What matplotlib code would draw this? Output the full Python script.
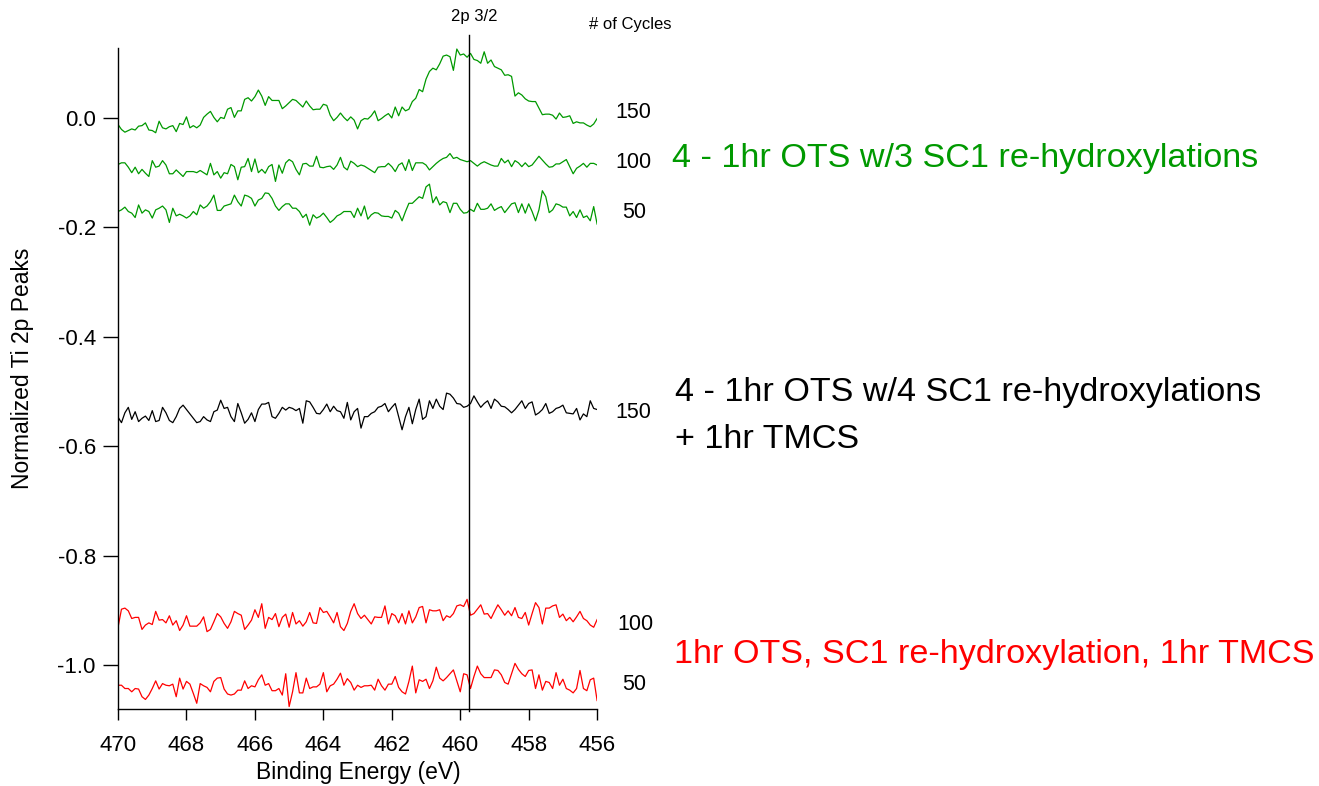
import matplotlib
matplotlib.use("Agg")
import matplotlib.pyplot as plt
import numpy as np

plt.rcParams['font.family'] = ['Liberation Sans', 'DejaVu Sans']
plt.rcParams['axes.unicode_minus'] = False

# binding energy grid, 0.1 eV steps from 470 down to 456
energy = np.linspace(470, 456, 141)

green_150 = [
    -0.012, -0.021, -0.026, -0.023, -0.020, -0.022, -0.015, -0.014, -0.009, -0.022,
    -0.023, -0.027, -0.006, -0.018, -0.020, -0.016, -0.014, -0.025, -0.010, -0.012,
    0.002, -0.018, -0.014, -0.018, -0.013, 0.001, 0.007, 0.012, 0.001, -0.007,
    0.001, -0.001, 0.016, 0.019, 0.001, 0.013, 0.013, 0.034, 0.037, 0.031,
    0.039, 0.051, 0.040, 0.023, 0.039, 0.032, 0.032, 0.032, 0.017, 0.022,
    0.028, 0.034, 0.032, 0.026, 0.020, 0.031, 0.022, 0.015, 0.016, 0.016,
    0.025, 0.023, 0.005, -0.005, 0.001, 0.009, 0.001, -0.005, 0.002, -0.004,
    -0.020,
    -0.005, -0.001, -0.002, 0.004, 0.013, -0.005, -0.001, 0.004, 0.008, 0.000,
    0.020, 0.004, 0.020, 0.013, 0.016, 0.030, 0.036, 0.052, 0.048, 0.071,
    0.085, 0.091, 0.088, 0.099, 0.113, 0.115, 0.112, 0.087, 0.126, 0.115,
    0.117, 0.111, 0.118, 0.107, 0.105, 0.100, 0.121, 0.100, 0.106, 0.094,
    0.091, 0.088, 0.078, 0.079, 0.076, 0.040, 0.046, 0.042, 0.035, 0.031,
    0.030, 0.030, 0.018, 0.006, 0.007, 0.007, 0.005, -0.002, 0.009, 0.001,
    0.002, 0.004, -0.010, -0.007, -0.009, -0.009, -0.013, -0.016, -0.011, -0.001,
]

green_100 = [
    -0.085, -0.082, -0.082, -0.090, -0.100, -0.090, -0.102, -0.094, -0.101, -0.107,
    -0.078, -0.090, -0.088, -0.078, -0.086, -0.102, -0.102, -0.095, -0.101, -0.107,
    -0.098, -0.098, -0.098, -0.100, -0.096, -0.100, -0.104, -0.083, -0.104, -0.098,
    -0.110, -0.100, -0.102, -0.085, -0.089, -0.113, -0.090, -0.089, -0.074, -0.098,
    -0.075, -0.100, -0.094, -0.101, -0.089, -0.085, -0.116, -0.086, -0.101, -0.082,
    -0.076, -0.080, -0.094, -0.104, -0.084, -0.083, -0.088, -0.088, -0.070, -0.090,
    -0.091, -0.089, -0.088, -0.094, -0.086, -0.072, -0.090, -0.095, -0.079, -0.083,
    -0.089,
    -0.086, -0.088, -0.092, -0.096, -0.100, -0.090, -0.089, -0.089, -0.083, -0.089,
    -0.098, -0.086, -0.082, -0.096, -0.076, -0.096, -0.082, -0.082, -0.082, -0.086,
    -0.095, -0.089, -0.083, -0.078, -0.074, -0.072, -0.065, -0.074, -0.072, -0.076,
    -0.078, -0.080, -0.078, -0.083, -0.088, -0.083, -0.080, -0.083, -0.086, -0.088,
    -0.088, -0.074, -0.082, -0.077, -0.089, -0.078, -0.082, -0.089, -0.082, -0.089,
    -0.086, -0.078, -0.070, -0.077, -0.084, -0.090, -0.089, -0.084, -0.084, -0.080,
    -0.076, -0.089, -0.102, -0.092, -0.088, -0.083, -0.090, -0.083, -0.083, -0.086,
]

green_50 = [
    -0.171, -0.168, -0.163, -0.171, -0.174, -0.182, -0.159, -0.174, -0.168, -0.171,
    -0.183, -0.168, -0.165, -0.161, -0.168, -0.191, -0.165, -0.179, -0.176, -0.179,
    -0.183, -0.179, -0.171, -0.177, -0.159, -0.165, -0.161, -0.153, -0.141, -0.169,
    -0.169, -0.161, -0.159, -0.157, -0.141, -0.153, -0.161, -0.141, -0.143, -0.147,
    -0.161, -0.150, -0.147, -0.137, -0.138, -0.147, -0.161, -0.169, -0.162, -0.157,
    -0.157, -0.165, -0.165, -0.171, -0.182, -0.176, -0.196, -0.177, -0.183, -0.180,
    -0.174, -0.182, -0.191, -0.186, -0.179, -0.176, -0.171, -0.171, -0.171, -0.182,
    -0.165,
    -0.179, -0.161, -0.185, -0.177, -0.173, -0.174, -0.179, -0.180, -0.180, -0.183,
    -0.169, -0.174, -0.188, -0.171, -0.156, -0.156, -0.150, -0.144, -0.147, -0.126,
    -0.121, -0.155, -0.144, -0.159, -0.153, -0.155, -0.173, -0.156, -0.156, -0.167,
    -0.174, -0.173, -0.167, -0.171, -0.156, -0.167, -0.167, -0.165, -0.157, -0.169,
    -0.165, -0.162, -0.173, -0.165, -0.157, -0.155, -0.173, -0.157, -0.174, -0.157,
    -0.171, -0.188, -0.168, -0.133, -0.144, -0.173, -0.168, -0.157, -0.159, -0.163,
    -0.163, -0.179, -0.171, -0.182, -0.168, -0.182, -0.179, -0.188, -0.162, -0.194,
]

black_150 = [
    -0.547, -0.557, -0.539, -0.529, -0.551, -0.537, -0.555, -0.549, -0.545, -0.553,
    -0.535, -0.555, -0.553, -0.529, -0.539, -0.553, -0.557, -0.546, -0.531, -0.525,
    -0.533, -0.541, -0.549, -0.557, -0.555, -0.546, -0.552, -0.555, -0.537, -0.534,
    -0.516, -0.531, -0.529, -0.546, -0.555, -0.522, -0.539, -0.558, -0.551, -0.539,
    -0.555, -0.533, -0.523, -0.523, -0.520, -0.546, -0.549, -0.540, -0.529, -0.534,
    -0.529, -0.531, -0.535, -0.531, -0.558, -0.517, -0.519, -0.529, -0.540, -0.541,
    -0.533, -0.523, -0.537, -0.527, -0.535, -0.537, -0.549, -0.520, -0.552, -0.537,
    -0.531,
    -0.567, -0.546, -0.546, -0.540, -0.537, -0.529, -0.527, -0.522, -0.537, -0.529,
    -0.522, -0.546, -0.570, -0.546, -0.529, -0.559, -0.533, -0.514, -0.551, -0.546,
    -0.517, -0.531, -0.514, -0.527, -0.533, -0.503, -0.505, -0.512, -0.522, -0.523,
    -0.529, -0.527, -0.522, -0.508, -0.519, -0.529, -0.522, -0.517, -0.531, -0.514,
    -0.519, -0.527, -0.528, -0.533, -0.539, -0.533, -0.525, -0.517, -0.531, -0.522,
    -0.519, -0.543, -0.539, -0.533, -0.522, -0.540, -0.537, -0.531, -0.529, -0.525,
    -0.539, -0.540, -0.541, -0.531, -0.552, -0.541, -0.546, -0.517, -0.531, -0.533,
]

red_100 = [
    -0.931, -0.898, -0.896, -0.901, -0.915, -0.913, -0.913, -0.935, -0.927, -0.923,
    -0.926, -0.902, -0.918, -0.917, -0.923, -0.910, -0.927, -0.919, -0.937, -0.927,
    -0.910, -0.929, -0.929, -0.929, -0.923, -0.912, -0.939, -0.935, -0.921, -0.906,
    -0.912, -0.924, -0.933, -0.921, -0.902, -0.906, -0.909, -0.935, -0.927, -0.918,
    -0.899, -0.913, -0.888, -0.933, -0.913, -0.917, -0.906, -0.930, -0.913, -0.907,
    -0.931, -0.904, -0.925, -0.919, -0.929, -0.921, -0.904, -0.923, -0.924, -0.895,
    -0.904, -0.902, -0.912, -0.923, -0.904, -0.930, -0.937, -0.924, -0.902, -0.888,
    -0.906,
    -0.915, -0.909, -0.917, -0.925, -0.912, -0.913, -0.913, -0.892, -0.925, -0.906,
    -0.910, -0.923, -0.906, -0.925, -0.901, -0.923, -0.912, -0.895, -0.893, -0.923,
    -0.899, -0.901, -0.901, -0.899, -0.919, -0.910, -0.913, -0.906, -0.892, -0.890,
    -0.893, -0.880, -0.909, -0.906, -0.898, -0.890, -0.907, -0.906, -0.915, -0.902,
    -0.890, -0.899, -0.909, -0.901, -0.910, -0.895, -0.913, -0.915, -0.904, -0.927,
    -0.906, -0.886, -0.895, -0.925, -0.896, -0.896, -0.892, -0.890, -0.913, -0.907,
    -0.919, -0.913, -0.921, -0.912, -0.902, -0.915, -0.919, -0.927, -0.931, -0.917,
]

red_50 = [
    -1.037, -1.037, -1.043, -1.043, -1.049, -1.043, -1.044, -1.058, -1.063, -1.055,
    -1.043, -1.029, -1.044, -1.034, -1.037, -1.038, -1.035, -1.058, -1.024, -1.044,
    -1.030, -1.035, -1.052, -1.070, -1.034, -1.038, -1.041, -1.049, -1.030, -1.024,
    -1.023, -1.044, -1.053, -1.055, -1.053, -1.046, -1.046, -1.029, -1.043, -1.038,
    -1.040, -1.027, -1.018, -1.037, -1.034, -1.047, -1.047, -1.043, -1.055, -1.016,
    -1.076, -1.049, -1.014, -1.051, -1.051, -1.024, -1.043, -1.040, -1.040, -1.035,
    -1.014, -1.049, -1.038, -1.035, -1.026, -1.015, -1.037, -1.025, -1.032, -1.046,
    -1.037,
    -1.041, -1.038, -1.038, -1.037, -1.046, -1.026, -1.038, -1.046, -1.035, -1.035,
    -1.021, -1.041, -1.049, -1.053, -1.030, -1.002, -1.051, -1.027, -1.030, -1.026,
    -1.043, -1.029, -1.004, -1.024, -1.029, -1.023, -1.016, -1.009, -1.029, -1.049,
    -1.016, -1.018, -1.043, -1.021, -1.002, -1.016, -1.023, -1.023, -1.023, -1.009,
    -1.010, -1.018, -1.032, -1.035, -1.016, -0.997, -1.008, -1.016, -1.021, -1.010,
    -1.009, -1.043, -1.018, -1.046, -1.030, -1.032, -1.043, -1.014, -1.037, -1.026,
    -1.043, -1.046, -1.051, -1.043, -1.010, -1.043, -1.047, -1.027, -1.024, -1.065,
]

peak_pos = 459.74
green = '#009900'
red = '#ff0000'

fig = plt.figure(figsize=(13.19, 7.86), dpi=100)
ax = fig.add_axes([0.0895, 0.098, 0.3632, 0.841])

for y, c in [(green_150, green), (green_100, green), (green_50, green),
             (black_150, 'black'), (red_100, red), (red_50, red)]:
    ax.plot(energy, y, color=c, lw=0.9)

ax.set_xlim(470, 456)
ax.set_ylim(-1.0804, 0.128)

# 2p 3/2 marker line, runs a bit above the plot area
ax.plot([peak_pos, peak_pos], [-1.085, 0.152], color='black', lw=1.0, clip_on=False)

ax.spines['top'].set_visible(False)
ax.spines['right'].set_visible(False)
ax.spines['left'].set_linewidth(1.0)
ax.spines['bottom'].set_linewidth(1.0)

ax.set_xticks([470, 468, 466, 464, 462, 460, 458, 456])
ax.set_yticks([0.0, -0.2, -0.4, -0.6, -0.8, -1.0])
ax.set_yticklabels(['0.0', '-0.2', '-0.4', '-0.6', '-0.8', '-1.0'])
ax.tick_params(axis='x', direction='out', length=8, width=1, labelsize=16, pad=11)
ax.tick_params(axis='y', direction='out', length=11, width=1, labelsize=16, pad=5)

ax.set_xlabel('Binding Energy (eV)', fontsize=16.5, va='center')
ax.xaxis.set_label_coords(0.501, -0.0968)
ax.set_ylabel('Normalized Ti 2p Peaks', fontsize=16.5, va='center')
ax.yaxis.set_label_coords(-0.2004, 0.516)

# cycle count labels
fs_n = 15.5
fig.text(615 / 1319, 1 - 112 / 786, '150', fontsize=fs_n, va='center')
fig.text(615 / 1319, 1 - 163 / 786, '100', fontsize=fs_n, va='center')
fig.text(622 / 1319, 1 - 213 / 786, '50', fontsize=fs_n, va='center')
fig.text(615 / 1319, 1 - 413 / 786, '150', fontsize=fs_n, va='center')
fig.text(617 / 1319, 1 - 625 / 786, '100', fontsize=fs_n, va='center')
fig.text(622 / 1319, 1 - 685 / 786, '50', fontsize=fs_n, va='center')

fig.text(474 / 1319, 1 - 17 / 786, '2p 3/2', fontsize=12, ha='center', va='center')
fig.text(630 / 1319, 1 - 24 / 786, '# of Cycles', fontsize=12, ha='center', va='center')

fs_big = 24.6
fig.text(672 / 1319, 1 - 158 / 786, '4 - 1hr OTS w/3 SC1 re-hydroxylations',
         fontsize=fs_big, color=green, va='center')
fig.text(675 / 1319, 1 - 393 / 786, '4 - 1hr OTS w/4 SC1 re-hydroxylations',
         fontsize=fs_big, color='black', va='center')
fig.text(675 / 1319, 1 - 440 / 786, '+ 1hr TMCS',
         fontsize=fs_big, color='black', va='center')
fig.text(674 / 1319, 1 - 655 / 786, '1hr OTS, SC1 re-hydroxylation, 1hr TMCS',
         fontsize=fs_big, color=red, va='center')

fig.savefig('out.png', dpi=100)
